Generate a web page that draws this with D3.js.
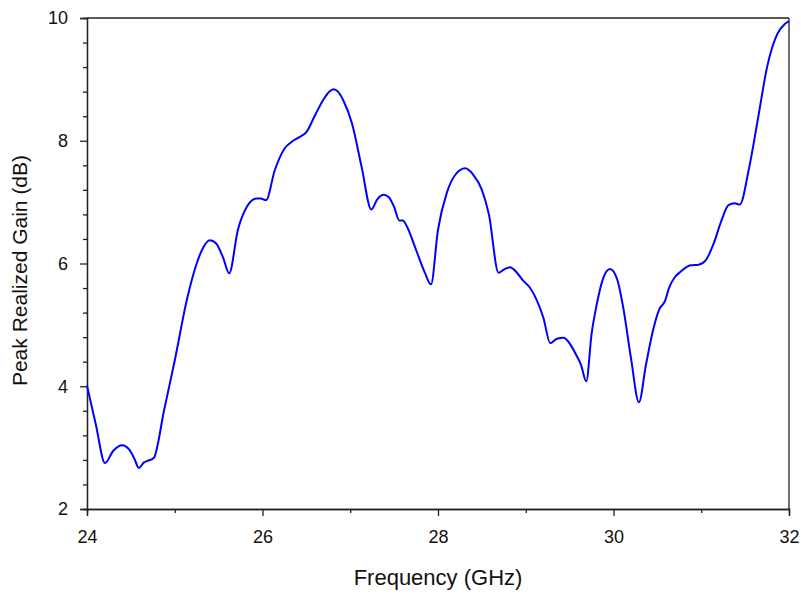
<!DOCTYPE html>
<html><head><meta charset="utf-8">
<script src="https://cdn.jsdelivr.net/npm/d3@7"></script>
<style>body{margin:0;background:#fff}svg{display:block}</style>
</head><body>
<svg id="chart" width="801" height="597"></svg>
<script>
const freq = [24.00,24.10,24.205,24.30,24.40,24.48,24.54,24.59,24.65,24.70,24.76,24.88,25.00,25.14,25.25,25.32,25.40,25.47,25.55,25.62,25.72,25.82,25.93,25.98,26.04,26.14,26.25,26.33,26.42,26.50,26.60,26.69,26.76,26.81,26.86,26.92,27.02,27.13,27.24,27.31,27.38,27.44,27.50,27.56,27.60,27.64,27.75,27.85,27.92,28.00,28.10,28.20,28.31,28.40,28.50,28.58,28.69,28.75,28.82,28.90,28.97,29.05,29.12,29.20,29.28,29.35,29.43,29.50,29.56,29.63,29.69,29.75,29.81,29.88,29.96,30.04,30.11,30.20,30.29,30.37,30.45,30.52,30.59,30.63,30.70,30.76,30.88,30.97,31.05,31.14,31.23,31.31,31.38,31.44,31.54,31.65,31.75,31.87,31.95,32.00];
const gain = [4.01,3.38,2.75,2.95,3.04,2.97,2.82,2.67,2.76,2.79,2.83,3.62,4.42,5.42,6.00,6.25,6.38,6.33,6.10,5.84,6.55,6.92,7.06,7.06,7.03,7.52,7.87,7.98,8.06,8.14,8.42,8.66,8.80,8.84,8.80,8.66,8.28,7.57,6.88,7.05,7.12,7.08,6.92,6.70,6.70,6.62,6.22,5.85,5.66,6.55,7.15,7.45,7.55,7.45,7.20,6.80,5.85,5.90,5.94,5.85,5.72,5.60,5.42,5.12,4.70,4.77,4.79,4.70,4.55,4.35,4.08,4.85,5.34,5.75,5.91,5.75,5.29,4.45,3.74,4.35,4.91,5.25,5.40,5.59,5.78,5.86,5.97,5.98,6.05,6.32,6.70,6.95,6.98,6.96,7.52,8.39,9.20,9.75,9.90,9.95];
const xMajorTicks = [24,26,28,30,32];
const xMinorTicks = [25,27,29,31];
const yMajorTicks = [2,4,6,8,10];
const yMinorTicks = [2.4,2.8,3.2,3.6,4.4,4.8,5.2,5.6,6.4,6.8,7.2,7.6,8.4,8.8,9.2,9.6];
const xTitle = "Frequency (GHz)";
const yTitle = "Peak Realized Gain (dB)";

const L = 87, T = 18, R = 789, B = 509;
const svg = d3.select("#chart");
const x = d3.scaleLinear().domain([24,32]).range([L,R]);
const y = d3.scaleLinear().domain([2,10]).range([B,T]);
const font = "Arial, 'Liberation Sans', sans-serif";

// frame top & right
svg.append("line").attr("x1",L).attr("x2",R).attr("y1",T).attr("y2",T).attr("stroke","#222").attr("stroke-width",1.3);
svg.append("line").attr("x1",R).attr("x2",R).attr("y1",T).attr("y2",B).attr("stroke","#222").attr("stroke-width",1.3);

// x axis
const gx = svg.append("g").attr("transform",`translate(0,${B})`);
gx.call(d3.axisBottom(x).tickValues(xMajorTicks).tickSize(7).tickPadding(14).tickFormat(d3.format("d")));
gx.append("g").call(d3.axisBottom(x).tickValues(xMinorTicks).tickSize(4).tickFormat(""));
gx.selectAll(".domain").attr("stroke","#222").attr("stroke-width",1.3);
gx.selectAll("line").attr("stroke","#222").attr("stroke-width",1.3);
gx.selectAll("text").attr("font-family",font).attr("font-size",18).attr("fill","#111");

// y axis
const gy = svg.append("g").attr("transform",`translate(${L},0)`);
gy.call(d3.axisLeft(y).tickValues(yMajorTicks).tickSize(7).tickPadding(12).tickFormat(d3.format("d")));
gy.append("g").call(d3.axisLeft(y).tickValues(yMinorTicks).tickSize(4).tickFormat(""));
gy.selectAll(".domain").attr("stroke","#222").attr("stroke-width",1.3);
gy.selectAll("line").attr("stroke","#222").attr("stroke-width",1.3);
gy.selectAll("text").attr("font-family",font).attr("font-size",18).attr("fill","#111");

// curve
const data = freq.map((f,i)=>({f, g:gain[i]}));
svg.append("path").datum(data)
  .attr("fill","none").attr("stroke","#0000ff").attr("stroke-width",2)
  .attr("stroke-linejoin","round")
  .attr("d", d3.line().x(d=>x(d.f)).y(d=>y(d.g)).curve(d3.curveMonotoneX));

// titles
svg.append("text").attr("x",438).attr("y",585).attr("text-anchor","middle")
  .attr("font-family",font).attr("font-size",22).attr("fill","#111").text(xTitle);
svg.append("text").attr("transform",`translate(27,${(T+B)/2 + 7}) rotate(-90)`).attr("text-anchor","middle")
  .attr("font-family",font).attr("font-size",21).attr("fill","#111").text(yTitle);
</script>
</body></html>
